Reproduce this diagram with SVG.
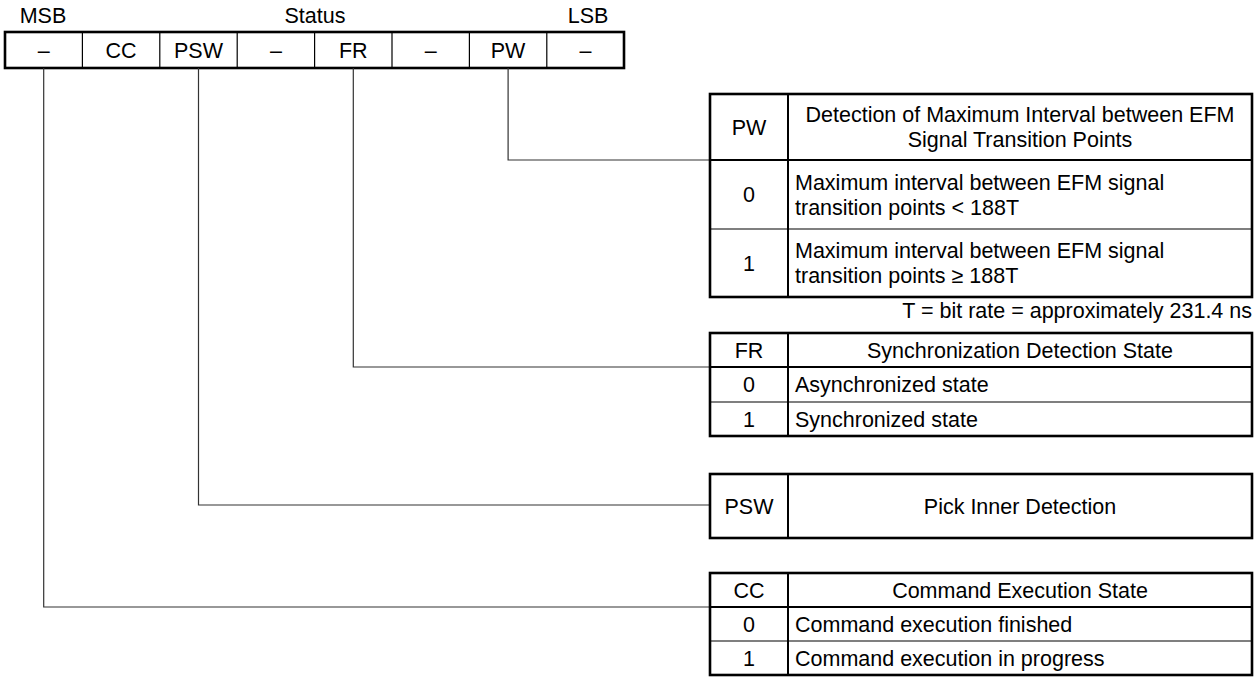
<svg xmlns="http://www.w3.org/2000/svg" width="1260" height="677" viewBox="0 0 1260 677">
<style>
text{font-family:"Liberation Sans",Arial,sans-serif;font-size:21.5px;fill:#000}
.c{text-anchor:middle}
.r{text-anchor:end}
.outer{fill:#fff;stroke:#000;stroke-width:2.6}
.hdr{stroke:#000;stroke-width:2;fill:none}
.div{stroke:#000;stroke-width:1.2;fill:none}
.conn{stroke:#333;stroke-width:1.2;fill:none}
</style>
<rect width="1260" height="677" fill="#fff"/>
<g id="register">
<text x="43" y="23" class="c">MSB</text>
<text x="315" y="23" class="c">Status</text>
<text x="588" y="23" class="c">LSB</text>
<rect class="outer" x="5" y="32" width="619" height="36"/>
<path class="div" d="M82.4 32V68M159.8 32V68M237.2 32V68M314.6 32V68M392 32V68M469.4 32V68M546.8 32V68"/>
<text x="43.7" y="58" class="c">–</text>
<text x="121.1" y="58" class="c">CC</text>
<text x="198.5" y="58" class="c">PSW</text>
<text x="275.9" y="58" class="c">–</text>
<text x="353.3" y="58" class="c">FR</text>
<text x="430.7" y="58" class="c">–</text>
<text x="508.1" y="58" class="c">PW</text>
<text x="585.5" y="58" class="c">–</text>
</g>
<g id="connectors">
<path class="conn" d="M508.1 68V160H710"/>
<path class="conn" d="M353.3 68V367H710"/>
<path class="conn" d="M198.5 68V505H710"/>
<path class="conn" d="M43.7 68V607H710"/>
</g>
<g id="pw-table">
<rect class="outer" x="710" y="94" width="542" height="203"/>
<path class="hdr" d="M788 94V297M710 160H1252"/>
<path class="div" d="M710 229H1252"/>
<text x="749" y="135" class="c">PW</text>
<text x="1020" y="122" class="c">Detection of Maximum Interval between EFM</text>
<text x="1020" y="147" class="c">Signal Transition Points</text>
<text x="749" y="202" class="c">0</text>
<text x="795" y="190">Maximum interval between EFM signal</text>
<text x="795" y="215">transition points &lt; 188T</text>
<text x="749" y="271" class="c">1</text>
<text x="795" y="258">Maximum interval between EFM signal</text>
<text x="795" y="283">transition points ≥ 188T</text>
<text x="1252" y="318" class="r">T = bit rate = approximately 231.4 ns</text>
</g>
<g id="fr-table">
<rect class="outer" x="710" y="333" width="542" height="103"/>
<path class="hdr" d="M788 333V436M710 367H1252"/>
<path class="div" d="M710 402H1252"/>
<text x="749" y="358" class="c">FR</text>
<text x="1020" y="358" class="c">Synchronization Detection State</text>
<text x="749" y="392" class="c">0</text>
<text x="795" y="392">Asynchronized state</text>
<text x="749" y="427" class="c">1</text>
<text x="795" y="427">Synchronized state</text>
</g>
<g id="psw-table">
<rect class="outer" x="710" y="474" width="542" height="64"/>
<path class="hdr" d="M788 474V538"/>
<text x="749" y="514" class="c">PSW</text>
<text x="1020" y="514" class="c">Pick Inner Detection</text>
</g>
<g id="cc-table">
<rect class="outer" x="710" y="573" width="542" height="102"/>
<path class="hdr" d="M788 573V675M710 607H1252"/>
<path class="div" d="M710 641H1252"/>
<text x="749" y="598" class="c">CC</text>
<text x="1020" y="598" class="c">Command Execution State</text>
<text x="749" y="632" class="c">0</text>
<text x="795" y="632">Command execution finished</text>
<text x="749" y="666" class="c">1</text>
<text x="795" y="666">Command execution in progress</text>
</g>
</svg>
